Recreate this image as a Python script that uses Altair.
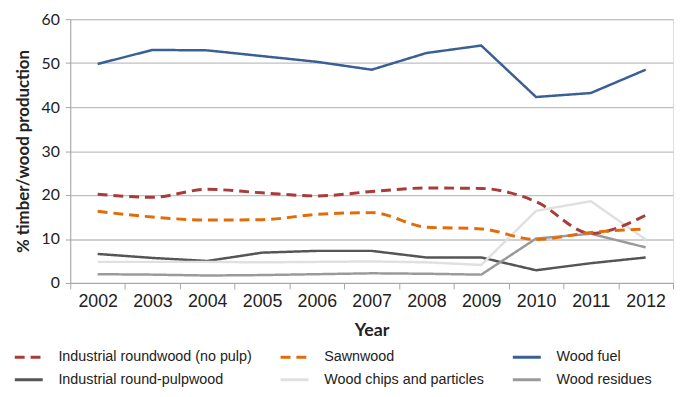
import altair as alt
import pandas as pd

years = [2002, 2003, 2004, 2005, 2006, 2007, 2008, 2009, 2010, 2011, 2012]
series_names = [
    "Industrial roundwood (no pulp)",
    "Sawnwood",
    "Wood fuel",
    "Industrial round-pulpwood",
    "Wood chips and particles",
    "Wood residues",
]
industrial_roundwood = [20.2, 19.5, 21.3, 20.5, 19.8, 20.8, 21.6, 21.5, 18.5, 11.3, 15.4]
sawnwood = [16.3, 15.0, 14.3, 14.4, 15.6, 16.0, 12.7, 12.3, 9.9, 11.5, 12.3]
wood_fuel = [49.8, 53.0, 52.9, 51.6, 50.3, 48.5, 52.3, 54.0, 42.3, 43.2, 48.5]
pulpwood = [6.6, 5.7, 5.0, 6.9, 7.3, 7.3, 5.8, 5.8, 2.9, 4.5, 5.8]
wood_chips = [4.8, 4.8, 4.8, 4.7, 4.8, 4.9, 4.7, 4.1, 16.4, 18.6, 9.9]
wood_residues = [2.0, 1.9, 1.7, 1.8, 2.0, 2.2, 2.1, 1.9, 10.1, 11.2, 8.1]

colors = ["#a83c3a", "#e36c0a", "#3a5f94", "#555555", "#e0e0e0", "#9a9a9a"]
dashes = [[10, 6], [10, 6], [1, 0], [1, 0], [1, 0], [1, 0]]

all_values = [industrial_roundwood, sawnwood, wood_fuel, pulpwood, wood_chips, wood_residues]
rows = []
for name, vals in zip(series_names, all_values):
    for y, v in zip(years, vals):
        rows.append({"Year": str(y), "series": name, "value": v})
df = pd.DataFrame(rows)

x = alt.X(
    "Year:O",
    bandPosition=0.5,
    scale=alt.Scale(type="band", paddingInner=0, paddingOuter=0),
    axis=alt.Axis(
        title="Year", tickBand="extent", labelAngle=0, grid=False,
        labelFont="Liberation Sans", labelFontSize=18, labelColor="#222222",
        titleFont="Lato", titleFontSize=18, titleFontWeight="bold",
        titleColor="#222222", domainColor="#a6a6a6", tickColor="#a6a6a6",
        tickSize=6, labelPadding=4, titlePadding=11,
    ),
)
y = alt.Y(
    "value:Q",
    scale=alt.Scale(domain=[0, 60]),
    axis=alt.Axis(
        title="% timber/wood production", values=[0, 10, 20, 30, 40, 50, 60],
        labelFont="Lato", labelFontSize=16, labelColor="#222222",
        titleFont="Lato", titleFontSize=17, titleFontWeight="bold", titleColor="#222222",
        domainColor="#a6a6a6", tickColor="#a6a6a6", tickSize=5,
        gridColor="#c0c0c0", gridWidth=1.3, labelPadding=6, titlePadding=9,
    ),
)
legend_kwargs = dict(
    title=None, orient="none", legendX=-58, legendY=326, columns=3,
    direction="horizontal", symbolType="stroke", symbolSize=800,
    symbolStrokeWidth=3, labelFont="Liberation Sans", labelFontSize=14.5,
    labelColor="#222222", columnPadding=22, rowPadding=-5, labelOffset=14,
    labelLimit=400, gridAlign="each",
)
color = alt.Color(
    "series:N",
    scale=alt.Scale(domain=series_names, range=colors),
    legend=alt.Legend(**legend_kwargs),
)
dash = alt.StrokeDash(
    "series:N",
    scale=alt.Scale(domain=series_names, range=dashes),
    legend=alt.Legend(**legend_kwargs),
)

dashed = alt.Chart(df).transform_filter(
    alt.FieldOneOfPredicate(field="series", oneOf=series_names[:2])
).mark_line(strokeWidth=3, interpolate="monotone").encode(x=x, y=y, color=color, strokeDash=dash)

solid = alt.Chart(df).transform_filter(
    alt.FieldOneOfPredicate(field="series", oneOf=series_names[2:])
).mark_line(strokeWidth=2.5).encode(x=x, y=y, color=color, strokeDash=dash)

chart = alt.layer(solid, dashed).properties(
    width=610, height=267,
    autosize=alt.AutoSizeParams(type="none"),
    padding={"left": 63, "top": 9, "right": 3, "bottom": 105},
).configure_view(stroke=None).configure(background="white")

chart.save("out.html", embed_options={"renderer": "svg", "actions": False})
